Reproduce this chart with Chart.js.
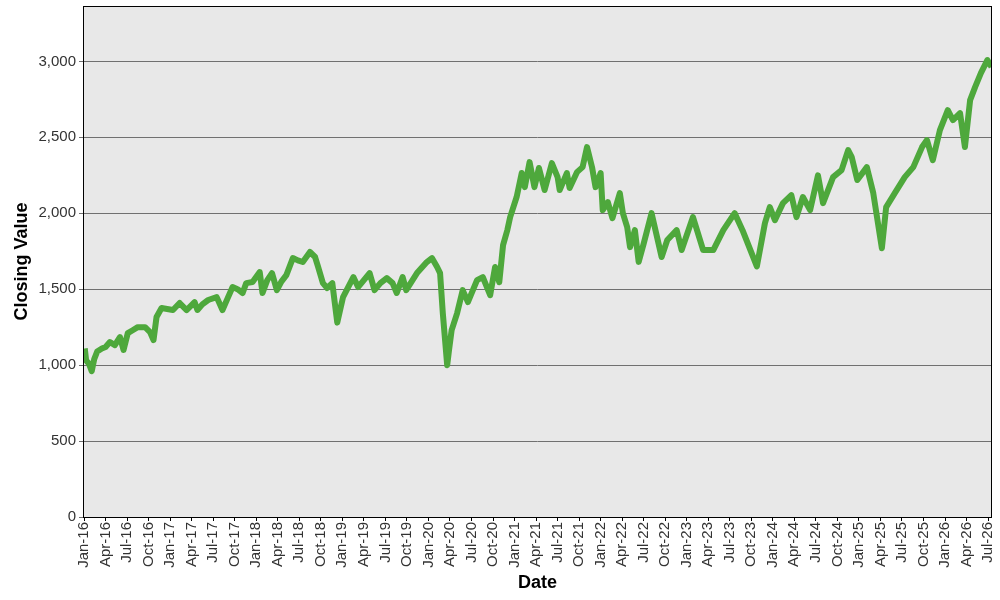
<!DOCTYPE html>
<html>
<head>
<meta charset="utf-8">
<title>Closing Value</title>
<script src="https://cdn.jsdelivr.net/npm/chart.js@4.4.1/dist/chart.umd.min.js"></script>
<style>
    html, body { margin: 0; padding: 0; background: #fff; }
    .wrap { width: 1000px; height: 600px; position: relative; }
</style>
</head>
<body>
<div class="wrap"><canvas id="closingChart"></canvas></div>
<script>
const dates = [
    "2016-01-04", "2016-01-10", "2016-01-22", "2016-02-03", "2016-02-13", "2016-02-25", "2016-03-16",
    "2016-04-01", "2016-04-19", "2016-05-10", "2016-06-01", "2016-06-16", "2016-07-04", "2016-07-25",
    "2016-08-16", "2016-09-16", "2016-10-07", "2016-10-22", "2016-11-04", "2016-11-25", "2016-12-19",
    "2017-01-13", "2017-02-10", "2017-03-10", "2017-04-13", "2017-04-25", "2017-05-16", "2017-06-10",
    "2017-07-16", "2017-08-10", "2017-09-01", "2017-09-22", "2017-10-13", "2017-11-04", "2017-11-19",
    "2017-12-16", "2018-01-16", "2018-01-28", "2018-02-16", "2018-03-07", "2018-03-28", "2018-04-16",
    "2018-05-07", "2018-06-04", "2018-06-25", "2018-07-16", "2018-08-16", "2018-09-07", "2018-09-19",
    "2018-10-10", "2018-10-28", "2018-11-19", "2018-12-10", "2019-01-04", "2019-02-16", "2019-03-07",
    "2019-04-01", "2019-04-25", "2019-05-16", "2019-06-10", "2019-07-07", "2019-08-01", "2019-08-19",
    "2019-09-13", "2019-09-28", "2019-11-13", "2019-12-25", "2020-01-16", "2020-02-07", "2020-02-19",
    "2020-03-01", "2020-03-20", "2020-03-28", "2020-04-08", "2020-05-01", "2020-05-25", "2020-06-16",
    "2020-07-25", "2020-08-19", "2020-09-19", "2020-10-10", "2020-10-28", "2020-11-13", "2020-12-01",
    "2020-12-13", "2021-01-10", "2021-02-01", "2021-02-13", "2021-03-04", "2021-03-25", "2021-04-13",
    "2021-05-07", "2021-06-07", "2021-07-01", "2021-07-10", "2021-08-10", "2021-08-22", "2021-09-22",
    "2021-10-16", "2021-11-04", "2021-11-25", "2021-12-10", "2022-01-01", "2022-01-10", "2022-02-01",
    "2022-02-19", "2022-03-22", "2022-04-04", "2022-04-22", "2022-05-04", "2022-05-25", "2022-06-10",
    "2022-07-01", "2022-08-04", "2022-09-16", "2022-10-10", "2022-11-19", "2022-12-10", "2023-01-28",
    "2023-03-10", "2023-04-22", "2023-06-04", "2023-07-22", "2023-08-25", "2023-10-25", "2023-11-28",
    "2023-12-19", "2024-01-10", "2024-02-13", "2024-03-19", "2024-04-10", "2024-05-07", "2024-06-07",
    "2024-07-10", "2024-08-01", "2024-09-13", "2024-10-19", "2024-11-16", "2024-12-01", "2024-12-25",
    "2025-02-04", "2025-03-01", "2025-04-07", "2025-04-25", "2025-06-01", "2025-07-13", "2025-08-19",
    "2025-09-25", "2025-10-16", "2025-11-10", "2025-12-10", "2026-01-13", "2026-02-04", "2026-03-04",
    "2026-03-25", "2026-04-16", "2026-05-07", "2026-06-01", "2026-06-28", "2026-07-16"
];

const closingValues = [
    1110, 1030, 1010, 960, 1040, 1090, 1110,
    1120, 1152, 1132, 1185, 1100, 1211, 1230,
    1250, 1250, 1218, 1165, 1317, 1376, 1370,
    1363, 1409, 1363, 1415, 1363, 1400, 1429,
    1448, 1363, 1440, 1514, 1500, 1475, 1540,
    1547, 1613, 1475, 1560, 1606, 1494, 1550,
    1593, 1705, 1690, 1679, 1745, 1712, 1650,
    1540, 1508, 1540, 1280, 1448, 1580, 1514,
    1560, 1606, 1494, 1540, 1573, 1540, 1475,
    1580, 1494, 1606, 1679, 1705, 1646, 1606,
    1343, 1000, 1100, 1231, 1343, 1494, 1415,
    1560, 1580, 1461, 1646, 1547, 1790, 1890,
    1975, 2107, 2265, 2172, 2337, 2172, 2298,
    2153, 2330, 2238, 2153, 2265, 2166, 2271,
    2304, 2436, 2304, 2172, 2265, 2021, 2074,
    1968, 2133, 2001, 1909, 1777, 1889, 1680,
    1800, 2001, 1712, 1824, 1889, 1758, 1975,
    1758, 1758, 1889, 2001, 1889, 1650, 1935,
    2041, 1955, 2067, 2120, 1975, 2107, 2021,
    2250, 2067, 2238, 2284, 2416, 2370, 2219,
    2304, 2133, 1770, 2041, 2133, 2238, 2304,
    2436, 2482, 2350, 2548, 2679, 2613, 2660,
    2436, 2745, 2831, 2923, 3009, 2963
];

const yTicks = [0, 500, 1000, 1500, 2000, 2500, 3000];
const monthNames = ["Jan", "Feb", "Mar", "Apr", "May", "Jun", "Jul", "Aug", "Sep", "Oct", "Nov", "Dec"];
// x tick labels: every quarter from Jan-16 to Jul-26 (months counted from Jan 2016)
const xTicks = [];
for (let m = 0; m <= 126; m += 3) xTicks.push(m);

// date string -> months since Jan 2016 (fractional)
function monthOffset(s) {
    const [y, mo, d] = s.split("-").map(Number);
    const dim = new Date(y, mo, 0).getDate();
    return (y - 2016) * 12 + (mo - 1) + (d - 1) / dim;
}

const points = dates.map((d, i) => ({ x: monthOffset(d), y: closingValues[i] }));

// grey plot background + black frame
const plotFrame = {
    id: "plotFrame",
    beforeDraw(chart) {
        const { ctx, chartArea: a } = chart;
        ctx.save();
        ctx.fillStyle = "#e8e8e8";
        ctx.fillRect(a.left, a.top, a.right - a.left, a.bottom - a.top);
        ctx.restore();
    },
    afterDatasetsDraw(chart) {
        const { ctx, chartArea: a } = chart;
        ctx.save();
        ctx.strokeStyle = "#000";
        ctx.lineWidth = 1;
        ctx.strokeRect(a.left + 0.5, a.top + 0.5, a.right - a.left - 1, a.bottom - a.top);
        ctx.restore();
    }
};

const tickFont = { family: "'Liberation Sans', Arial, sans-serif", size: 15 };
const titleFont = { family: "'Liberation Sans', Arial, sans-serif", size: 18, weight: "bold" };

new Chart(document.getElementById("closingChart"), {
    type: "line",
    data: {
        datasets: [{
            data: points,
            borderColor: "#4ea83c",
            borderWidth: 6,
            borderJoinStyle: "round",
            pointRadius: 0,
            tension: 0,
            fill: false
        }]
    },
    options: {
        animation: false,
        responsive: true,
        maintainAspectRatio: false,
        layout: { padding: { top: 6, right: 8, left: 0, bottom: 0 } },
        plugins: {
            legend: { display: false },
            tooltip: { enabled: false }
        },
        scales: {
            x: {
                type: "linear",
                min: -0.15,
                max: 126.55,
                afterBuildTicks: (s) => { s.ticks = xTicks.map(v => ({ value: v })); },
                afterFit: (s) => { s.height = 83; s.paddingLeft = 0; s.paddingRight = 0; },
                border: { display: false },
                grid: { drawOnChartArea: false, drawTicks: true, tickLength: 4, color: "#000" },
                ticks: {
                    autoSkip: false,
                    minRotation: 90,
                    maxRotation: 90,
                    padding: 1,
                    color: "#333",
                    font: tickFont,
                    callback: (v) => monthNames[v % 12] + "-" + String(16 + Math.floor(v / 12))
                },
                title: {
                    display: true,
                    text: "Date",
                    color: "#000",
                    font: titleFont,
                    padding: { top: 0, bottom: 6 }
                }
            },
            y: {
                min: 0,
                max: 3365,
                afterBuildTicks: (s) => { s.ticks = yTicks.map(v => ({ value: v })); },
                afterFit: (s) => { s.width = 83; s.paddingTop = 0; s.paddingBottom = 0; },
                border: { display: false },
                grid: { color: "#707070", lineWidth: 1, drawTicks: true, tickLength: 4 },
                ticks: {
                    padding: 3,
                    color: "#333",
                    font: tickFont,
                    callback: (v) => v.toLocaleString("en-US")
                },
                title: {
                    display: true,
                    text: "Closing Value",
                    color: "#000",
                    font: titleFont,
                    padding: { top: 11, bottom: 0 }
                }
            }
        }
    },
    plugins: [plotFrame]
});
</script>
</body>
</html>
